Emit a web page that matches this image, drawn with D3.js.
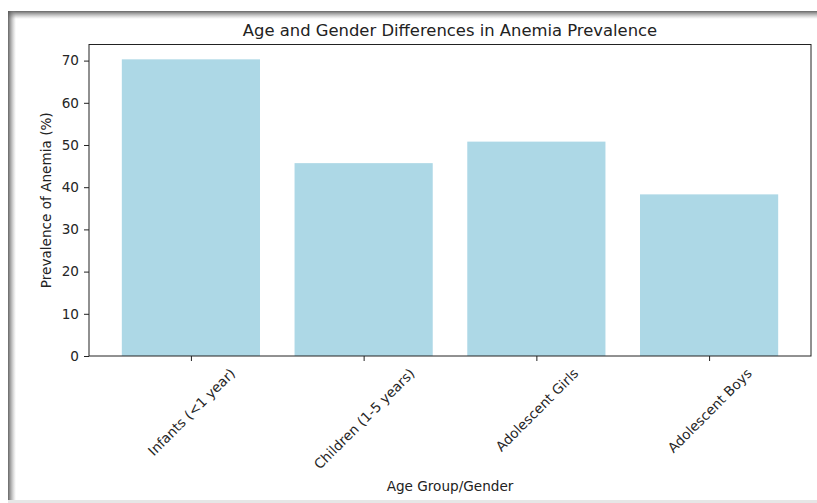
<!DOCTYPE html>
<html lang="en">
<head>
  <meta charset="UTF-8">
  <title>Anemia Prevalence</title>
  <script src="https://d3js.org/d3.v7.min.js"></script>
  <style>
    body {
      margin: 0;
      background: #fff;
      font-family: "DejaVu Sans", sans-serif;
    }
    .tick text {
      font-family: "DejaVu Sans", sans-serif;
      font-size: 13.6px;
      fill: #262626;
    }
  </style>
</head>
<body>
  <svg id="chart" width="817" height="503"></svg>

  <script>
    const groups = ["Infants (<1 year)", "Children (1-5 years)", "Adolescent Girls", "Adolescent Boys"];
    const prevalence = [70.3, 45.7, 50.8, 38.3];
    const yTicks = [0, 10, 20, 30, 40, 50, 60, 70];

    const W = 817, H = 503;
    const margin = {top: 44.5, right: 6, bottom: 147, left: 89};
    const width = W - margin.left - margin.right;
    const height = H - margin.top - margin.bottom;
    const fs = 13.6;

    const svg = d3.select("#chart");

    // screenshot frame with soft shadow
    const defs = svg.append("defs");
    const gTop = defs.append("linearGradient").attr("id", "shTop")
      .attr("x1", 0).attr("y1", 0).attr("x2", 0).attr("y2", 1);
    gTop.append("stop").attr("offset", 0).attr("stop-color", "#555").attr("stop-opacity", 0.9);
    gTop.append("stop").attr("offset", 1).attr("stop-color", "#999").attr("stop-opacity", 0);
    const gLeft = defs.append("linearGradient").attr("id", "shLeft")
      .attr("x1", 0).attr("y1", 0).attr("x2", 1).attr("y2", 0);
    gLeft.append("stop").attr("offset", 0).attr("stop-color", "#555").attr("stop-opacity", 0.9);
    gLeft.append("stop").attr("offset", 1).attr("stop-color", "#999").attr("stop-opacity", 0);

    svg.append("rect").attr("x", 8).attr("y", 11).attr("width", W - 8).attr("height", 8)
      .attr("fill", "url(#shTop)");
    svg.append("rect").attr("x", 8).attr("y", 11).attr("width", 8).attr("height", H - 11)
      .attr("fill", "url(#shLeft)");
    svg.append("rect").attr("x", 8).attr("y", 500).attr("width", W - 8).attr("height", 3)
      .attr("fill", "#e6e6e6");

    const g = svg.append("g")
      .attr("transform", `translate(${margin.left},${margin.top})`);

    // matplotlib-like: bars of width 0.8, 5% margins
    const x = d3.scaleLinear().domain([-0.59, 3.59]).range([0, width]);
    const y = d3.scaleLinear().domain([0, d3.max(prevalence) * 1.05]).range([height, 0]);

    g.selectAll(".bar")
      .data(prevalence)
      .join("rect")
      .attr("class", "bar")
      .attr("x", (d, i) => x(i - 0.4))
      .attr("width", (d, i) => x(i + 0.4) - x(i - 0.4))
      .attr("y", d => y(d))
      .attr("height", d => height - y(d))
      .attr("fill", "#add8e6");

    const yAxis = g.append("g")
      .call(d3.axisLeft(y).tickValues(yTicks).tickSize(5).tickPadding(5));
    yAxis.select(".domain").remove();
    yAxis.selectAll(".tick line").attr("stroke", "#222");

    const xAxis = g.append("g")
      .attr("transform", `translate(0,${height})`)
      .call(d3.axisBottom(x).tickValues(d3.range(groups.length)).tickSize(5).tickFormat(""));
    xAxis.select(".domain").remove();
    xAxis.selectAll(".tick line").attr("stroke", "#222");

    // rotated tick labels, centred on tick, bbox top just below tick
    xAxis.selectAll(".tick").each(function(d) {
      const t = d3.select(this).append("text")
        .attr("text-anchor", "middle")
        .attr("dominant-baseline", "central")
        .text(groups[d]);
      const L = t.node().getComputedTextLength();
      const cy = (L + fs) / (2 * Math.SQRT2) + 10;
      t.attr("transform", `translate(0,${cy}) rotate(-45)`);
    });

    // spines
    g.append("rect")
      .attr("width", width)
      .attr("height", height)
      .attr("fill", "none")
      .attr("stroke", "#222")
      .attr("stroke-width", 1);

    svg.append("text")
      .attr("x", margin.left + width / 2)
      .attr("y", 36)
      .attr("text-anchor", "middle")
      .attr("font-size", "16.4px")
      .attr("fill", "#222")
      .text("Age and Gender Differences in Anemia Prevalence");

    svg.append("text")
      .attr("x", margin.left + width / 2)
      .attr("y", 491)
      .attr("text-anchor", "middle")
      .attr("font-size", fs + "px")
      .attr("fill", "#222")
      .text("Age Group/Gender");

    svg.append("text")
      .attr("transform", `translate(51,${margin.top + height / 2}) rotate(-90)`)
      .attr("text-anchor", "middle")
      .attr("font-size", fs + "px")
      .attr("fill", "#222")
      .text("Prevalence of Anemia (%)");
  </script>
</body>
</html>
